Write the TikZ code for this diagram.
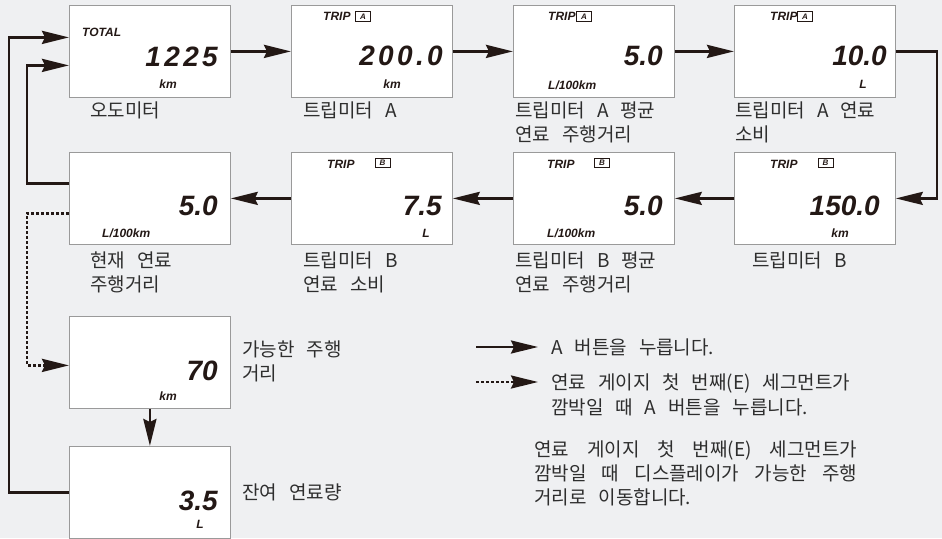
\documentclass[tikz,border=0pt]{standalone}
\usepackage{fontspec}
\usetikzlibrary{arrows.meta}
\setmainfont{Liberation Sans}
\newfontfamily\kr[WordSpace=2.8]{Noto Sans CJK KR}
\newfontfamily\lcd{Liberation Sans}
\definecolor{bg}{HTML}{EFF0F2}
\definecolor{ink}{HTML}{231815}
\definecolor{txt}{HTML}{2E2E2E}
\definecolor{frame}{HTML}{9A9A9A}
\newcommand\twolines[2]{\vtop{\hbox{#1}\hbox{#2}}}
\newcommand\wide[1]{{\addfontfeature{LetterSpace=12}#1}}
\begin{document}
\begin{tikzpicture}[x=1pt,y=-1pt,
  lcdbox/.style={draw=frame,line width=0.8pt,fill=white,minimum width=161pt,minimum height=92pt,inner sep=0pt,anchor=north west},
  conn/.style={draw=ink,line width=2.8pt},
  arr/.style={conn,-{Stealth[length=27pt,width=13pt,inset=3pt]}},
  dotarr/.style={arr,dash pattern=on 3pt off 2pt},
  lbl/.style={font=\kr\fontsize{19}{24.5}\selectfont,text=txt,anchor=base west,inner sep=0pt},
  digits/.style={font=\lcd\bfseries\itshape\fontsize{28}{28}\selectfont,anchor=base east,inner sep=0pt,text=ink},
  tag/.style={font=\lcd\bfseries\itshape\fontsize{12}{12}\selectfont,inner sep=0pt,text=ink},
  tagbox/.style={draw=ink,line width=0.6pt,font=\lcd\bfseries\itshape\fontsize{8}{8}\selectfont,inner sep=0pt,minimum width=15pt,minimum height=9.5pt,text=ink}
]
\useasboundingbox (0,0) rectangle (942,538);
\fill[bg] (0,0) rectangle (942,538);

% boxes
\node[lcdbox] (odo) at (69,5) {};
\node[lcdbox] (tripa) at (291,5) {};
\node[lcdbox] (avga) at (513,5) {};
\node[lcdbox] (fuela) at (734,5) {};
\node[lcdbox] (cur) at (69,152) {};
\node[lcdbox] (fuelb) at (291,152) {};
\node[lcdbox] (avgb) at (513,152) {};
\node[lcdbox] (tripb) at (734,152) {};
\node[lcdbox] (range) at (69,316) {};
\node[lcdbox] (rem) at (69,446) {};

% box 1
\node[tag,anchor=base west] (t1) at (82,36) {TOTAL};
\node[digits] (d1) at (218,66) {\wide{1225}};
\node[tag,anchor=base] (u1) at (168,88) {km};
% box 2
\node[tag,anchor=base west] (t2) at (323,20) {TRIP};
\node[tagbox] (b2) at (363,16.5) {A};
\node[digits] (d2) at (443,65) {\wide{200.0}};
\node[tag,anchor=base] (u2) at (392,88) {km};
% box 3
\node[tag,anchor=base west] (t3) at (548,20) {TRIP};
\node[tagbox] (b3) at (584,16.5) {A};
\node[digits] (d3) at (663,65) {5.0};
\node[tag,anchor=base west] (u3) at (548,89) {L/100km};
% box 4
\node[tag,anchor=base west] (t4) at (770,20) {TRIP};
\node[tagbox] (b4) at (805,16.5) {A};
\node[digits] (d4) at (887,65) {10.0};
\node[tag,anchor=base] (u4) at (863,88) {L};
% row 2
\node[tag,anchor=base west] (t5) at (770,168) {TRIP};
\node[tagbox] (b5) at (825.5,163) {B};
\node[digits] (d5) at (880,215) {150.0};
\node[tag,anchor=base] (u5) at (840,237) {km};
\node[tag,anchor=base west] (t6) at (547,168) {TRIP};
\node[tagbox] (b6) at (602,163) {B};
\node[digits] (d6) at (663,215) {5.0};
\node[tag,anchor=base west] (u6) at (547,237) {L/100km};
\node[tag,anchor=base west] (t7) at (327,168) {TRIP};
\node[tagbox] (b7) at (382.5,163) {B};
\node[digits] (d7) at (442,215) {7.5};
\node[tag,anchor=base] (u7) at (426,237) {L};
\node[digits] (d8) at (218,215) {5.0};
\node[tag,anchor=base west] (u8) at (102,237) {L/100km};
% row 3, 4
\node[digits] (d9) at (218,380) {70};
\node[tag,anchor=base] (u9) at (168,400) {km};
\node[digits] (d10) at (218,510) {3.5};
\node[tag,anchor=base] (u10) at (200,528) {L};

% labels
\node[lbl] (l1) at (90,117) {오도미터};
\node[lbl] (l2) at (303,117) {트립미터 A};
\node[lbl] (l3) at (515,117) {\twolines{트립미터 A 평균}{연료 주행거리}};
\node[lbl] (l4) at (735,117) {\twolines{트립미터 A 연료}{소비}};
\node[lbl] (l5) at (90,267) {\twolines{현재 연료}{주행거리}};
\node[lbl] (l6) at (303,267) {\twolines{트립미터 B}{연료 소비}};
\node[lbl] (l7) at (515,267) {\twolines{트립미터 B 평균}{연료 주행거리}};
\node[lbl] (l8) at (752,267) {트립미터 B};
\node[lbl] (l9) at (242,356) {\twolines{가능한 주행}{거리}};
\node[lbl] (l10) at (242,499) {잔여 연료량};

% legend
\coordinate (la1) at (476,347);
\coordinate (lb1) at (538,347);
\coordinate (la2) at (476,382);
\coordinate (lb2) at (538,382);
\draw[arr] (la1) -- (lb1);
\draw[dotarr] (la2) -- (lb2);
\node[lbl] (g1) at (551,354) {A 버튼을 누릅니다.};
\node[lbl,font=\kr\fontsize{19}{25}\selectfont] (g2) at (551,389) {\twolines{연료 게이지 첫 번째(E) 세그먼트가}{깜박일 때 A 버튼을 누릅니다.}};
\node[lbl,font=\kr\fontsize{19}{24}\selectfont] (g3) at (534,456) {\vtop{\hbox{\makebox[323pt][s]{연료 게이지 첫 번째(E) 세그먼트가}}\hbox{\makebox[323pt][s]{깜박일 때 디스플레이가 가능한 주행}}\hbox{거리로 이동합니다.}}};

% connectors
\draw[arr] (odo.east) -- (tripa.west);
\draw[arr] (tripa.east) -- (avga.west);
\draw[arr] (avga.east) -- (fuela.west);
\coordinate (rloop) at (937,120);
\draw[arr] (fuela.east) -| (rloop) |- (tripb.east);
\draw[arr] (tripb.west) -- (avgb.east);
\draw[arr] (avgb.west) -- (fuelb.east);
\draw[arr] (fuelb.west) -- (cur.east);
\coordinate (inx) at (27,120);
\coordinate (dotx) at (27,300);
\coordinate (outx) at (9,250);
\draw[arr] ([yshift=15pt]cur.west) -| (inx) |- ([yshift=-14pt]odo.west);
\draw[dotarr] ([yshift=-15pt]cur.west) -| (dotx) |- ([yshift=-3pt]range.west);
\draw[arr] (rem.west) -| (outx) |- ([yshift=14pt]odo.west);
\draw[arr] (range.south) -- (rem.north);
\end{tikzpicture}
\end{document}
